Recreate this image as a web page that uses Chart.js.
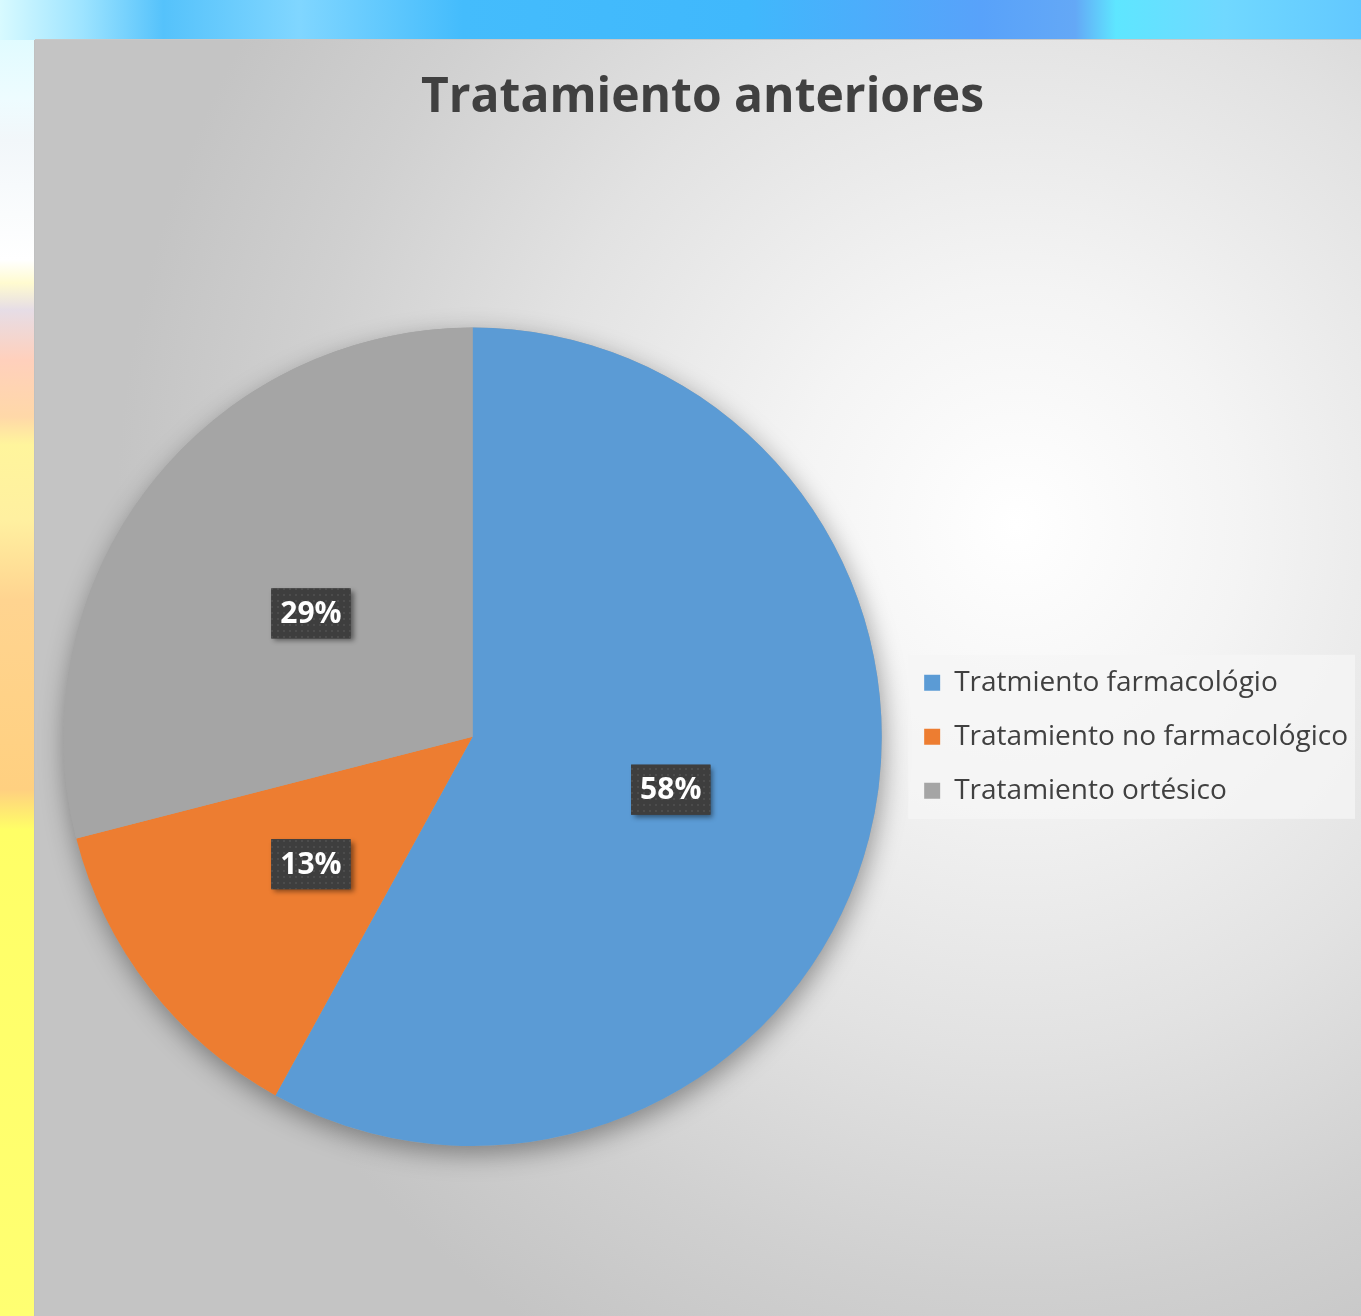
<!DOCTYPE html>
<html>
<head>
<meta charset="utf-8">
<script src="https://cdn.jsdelivr.net/npm/chart.js@4/dist/chart.umd.min.js"></script>
<style>
  html, body { margin: 0; padding: 0; width: 1361px; height: 1316px; overflow: hidden; }
  body {
    position: relative;
    background: linear-gradient(180deg, #d8fbff 0px, #eefcff 100px, #f2f7fa 140px, #ffffff 260px, #fffbd0 283px, #e6dde6 310px, #ffd0bc 360px, #ffd8a8 417px, #fff59c 445px, #fff0a0 520px, #ffd490 600px, #ffd080 790px, #ffff66 830px, #ffff72 1316px);
  }
  #topband {
    position: absolute; left: 0; top: 0; width: 1361px; height: 40px;
    background: linear-gradient(90deg, #d8faff 0%, #9ee4ff 6%, #55c2fb 12%, #80d6ff 22%, #44bcfc 34%, #40b8fc 55%, #58a2fa 72%, #64a8f6 79%, #5ee6ff 82%, #70d8ff 90%, #62c8ff 100%);
  }
  #panel {
    position: absolute; left: 35px; top: 40px; width: 1326px; height: 1276px;
    background: radial-gradient(ellipse 900px 950px at 74% 38%, #ffffff 0%, #f4f4f4 25%, #e2e2e2 55%, #d0d0d0 80%, #c4c4c4 100%);
    box-shadow: -1px 0 0 #c0c0c0, 0 -1px 0 #c8c8c8;
  }
  canvas { display: block; }
</style>
</head>
<body>
<div id="topband"></div>
<div id="panel"><canvas id="c" width="1326" height="1276"></canvas></div>
<script>
const chartTitle = 'Tratamiento anteriores';
const categories = ['Tratmiento farmacológio', 'Tratamiento no farmacológico', 'Tratamiento ortésico'];
const values = [58, 13, 29];
const colors = ['#5b9bd5', '#ed7d31', '#a5a5a5'];

const total = values.reduce((a, b) => a + b, 0);
const percentLabels = values.map(v => Math.round(v / total * 100) + '%');

function makePattern(ctx) {
  const p = document.createElement('canvas');
  p.width = 6; p.height = 6;
  const pc = p.getContext('2d');
  pc.fillStyle = '#3e3e3e';
  pc.fillRect(0, 0, 6, 6);
  pc.fillStyle = '#4c4c4c';
  pc.fillRect(2, 2, 2, 2);
  return ctx.createPattern(p, 'repeat');
}

const pieShadow = {
  id: 'pieShadow',
  beforeDatasetsDraw(chart) {
    const meta = chart.getDatasetMeta(0);
    const arc = meta.data[0];
    if (!arc) return;
    const ctx = chart.ctx;
    ctx.save();
    ctx.shadowColor = 'rgba(0,0,0,0.38)';
    ctx.shadowBlur = 26;
    ctx.shadowOffsetX = 2;
    ctx.shadowOffsetY = 8;
    ctx.fillStyle = '#a5a5a5';
    ctx.beginPath();
    ctx.arc(arc.x, arc.y, arc.outerRadius, 0, Math.PI * 2);
    ctx.fill();
    ctx.restore();
  }
};

const legendBg = {
  id: 'legendBg',
  beforeDraw(chart) {
    const lg = chart.legend;
    if (!lg || !lg.legendHitBoxes || !lg.legendHitBoxes.length) return;
    const hb = lg.legendHitBoxes;
    const ctx = chart.ctx;
    const x0 = lg.left + 10;
    const y0 = hb[0].top - 14;
    const y1 = hb[hb.length - 1].top + hb[hb.length - 1].height + 14;
    const x1 = chart.width - 6;
    ctx.save();
    ctx.fillStyle = 'rgba(246,246,246,0.75)';
    ctx.fillRect(x0, y0, x1 - x0, y1 - y0);
    ctx.restore();
  }
};

const dataLabels = {
  id: 'dataLabels',
  afterDatasetsDraw(chart) {
    const ctx = chart.ctx;
    const meta = chart.getDatasetMeta(0);
    const pattern = makePattern(ctx);
    ctx.save();
    ctx.font = 'bold 30px "Open Sans"';
    meta.data.forEach((arc, i) => {
      const pos = arc.tooltipPosition();
      const txt = percentLabels[i];
      const w = ctx.measureText(txt).width + 18;
      const h = 50;
      const cy = pos.y + 2;
      const x = pos.x - w / 2, y = cy - h / 2;
      ctx.save();
      ctx.shadowColor = 'rgba(0,0,0,0.45)';
      ctx.shadowBlur = 5;
      ctx.shadowOffsetX = 3;
      ctx.shadowOffsetY = 3;
      ctx.fillStyle = '#3e3e3e';
      ctx.fillRect(x, y, w, h);
      ctx.restore();
      ctx.fillStyle = pattern;
      ctx.fillRect(x, y, w, h);
      ctx.fillStyle = '#ffffff';
      ctx.textAlign = 'center';
      ctx.textBaseline = 'middle';
      ctx.fillText(txt, pos.x, cy + 1);
    });
    ctx.restore();
  }
};

new Chart(document.getElementById('c'), {
  type: 'pie',
  data: {
    labels: categories,
    datasets: [{
      data: values,
      backgroundColor: colors,
      borderWidth: 0,
      hoverOffset: 0
    }]
  },
  options: {
    responsive: false,
    animation: false,
    events: [],
    layout: { padding: { left: 12, right: 3, top: 0, bottom: 170 } },
    plugins: {
      title: {
        display: true,
        text: chartTitle,
        color: '#404040',
        font: { family: 'Open Sans', size: 48, weight: 'bold' },
        padding: { top: 30, bottom: 200 }
      },
      legend: {
        display: true,
        position: 'right',
        align: 'center',
        fullSize: false,
        labels: {
          boxWidth: 16,
          boxHeight: 16,
          padding: 26,
          color: '#404040',
          font: { family: 'Open Sans', size: 28 }
        }
      },
      tooltip: { enabled: false }
    }
  },
  plugins: [legendBg, pieShadow, dataLabels]
});
</script>
</body>
</html>
